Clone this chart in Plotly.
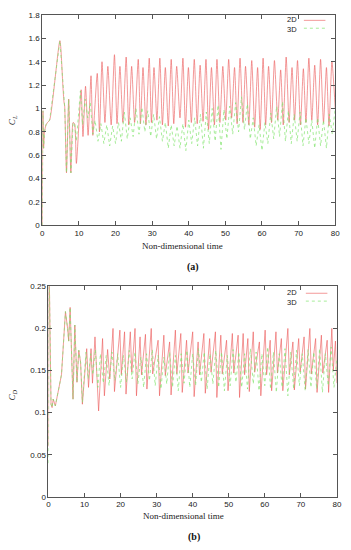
import plotly.graph_objects as go

# ---------------- data ----------------
x_ticks = [0, 10, 20, 30, 40, 50, 60, 70, 80]
cl_ticks = [0, 0.2, 0.4, 0.6, 0.8, 1.0, 1.2, 1.4, 1.6, 1.8]
cl_tick_text = ["0", "0.2", "0.4", "0.6", "0.8", "1", "1.2", "1.4", "1.6", "1.8"]
cd_ticks = [0, 0.05, 0.1, 0.15, 0.2, 0.25]
cd_tick_text = ["0", "0.05", "0.1", "0.15", "0.2", "0.25"]

# C_L, 2D
cl2d_t = [0, 0.15, 0.35, 0.6, 1.0, 1.4, 2.0, 4.8, 5.6, 5.9, 6.1, 6.6, 7.2, 7.8, 8.4, 8.8, 9.3,
          10.6, 11.1, 11.8, 12.5, 13.3, 13.8, 15.0, 15.6, 16.3, 17.1, 17.9, 18.8, 19.7, 20.4,
          21.2, 22.0, 22.9, 23.6, 24.4, 25.2, 26.2, 26.8, 27.5, 28.3, 29.2, 29.8, 30.5, 31.3,
          32.1, 32.8, 33.6, 34.4, 35.2, 35.9, 36.7, 37.6, 38.4, 39.1, 39.9, 40.7, 41.5, 42.3,
          43.1, 43.9, 44.7, 45.4, 46.2, 47.0, 47.7, 48.5, 49.3, 50.1, 50.9, 51.7, 52.5, 53.2,
          54.0, 54.8, 55.5, 56.4, 57.2, 58.0, 58.8, 59.5, 60.3, 61.0, 61.8, 62.6, 63.4, 64.3,
          65.1, 65.8, 66.6, 67.4, 68.2, 68.9, 69.7, 70.5, 71.3, 72.0, 72.8, 73.6, 74.4, 75.2,
          76.0, 76.8, 77.6, 78.3, 79.1, 80.0]
cl2d_v = [0.0, 0.98, 0.66, 0.80, 0.86, 0.88, 0.90, 1.58, 1.20, 1.06, 1.02, 0.45, 1.08, 0.45, 0.88, 0.87, 0.53,
          1.16, 0.76, 1.19, 0.77, 1.28, 0.77, 1.30, 0.80, 1.40, 0.88, 1.36, 0.86, 1.46, 0.87,
          1.36, 0.88, 1.44, 0.86, 1.36, 0.88, 1.42, 0.87, 1.35, 0.86, 1.43, 0.88, 1.35, 0.90,
          1.43, 0.86, 1.35, 0.85, 1.42, 0.87, 1.36, 0.92, 1.43, 0.84, 1.35, 0.88, 1.42, 0.87,
          1.37, 0.89, 1.42, 0.82, 1.35, 0.86, 1.42, 0.88, 1.36, 0.90, 1.42, 0.92, 1.35, 0.87,
          1.43, 0.88, 1.36, 0.86, 1.41, 0.84, 1.35, 0.82, 1.43, 0.86, 1.36, 0.88, 1.41, 0.90,
          1.33, 0.86, 1.44, 0.88, 1.35, 0.90, 1.41, 0.86, 1.34, 0.88, 1.43, 0.90, 1.37, 0.86,
          1.42, 0.88, 1.35, 0.85, 1.40, 1.00]

# C_L, 3D
cl3d_t = [0, 0.15, 0.35, 0.6, 1.0, 1.4, 2.0, 4.8, 5.6, 5.9, 6.1, 6.6, 7.2, 7.8, 8.4, 8.8, 9.3,
          10.4, 11.0, 11.7, 12.4, 13.1, 13.8, 14.4, 15.2, 16.0, 16.8, 17.6, 18.4, 19.2, 20.0,
          20.8, 21.6, 22.4, 23.2, 24.0, 24.8, 25.6, 26.4, 27.2, 28.0, 28.8, 29.6, 30.4, 31.2,
          32.0, 32.8, 33.6, 34.4, 35.2, 36.0, 36.8, 37.6, 38.4, 39.2, 40.0, 40.8, 41.6, 42.4,
          43.2, 44.0, 44.8, 45.6, 46.4, 47.2, 48.0, 48.8, 49.6, 50.4, 51.2, 52.0, 52.8, 53.6,
          54.4, 55.2, 56.0, 56.8, 57.6, 58.4, 59.2, 60.0, 60.8, 61.6, 62.4, 63.2, 64.0, 64.8,
          65.6, 66.4, 67.2, 68.0, 68.8, 69.6, 70.4, 71.2, 72.0, 72.8, 73.6, 74.4, 75.2, 76.0,
          76.8, 77.6, 78.4, 79.2, 80.0]
cl3d_v = [0.0, 0.98, 0.66, 0.80, 0.86, 0.88, 0.90, 1.58, 1.20, 1.06, 1.02, 0.45, 1.08, 0.45, 0.88, 0.87, 0.72,
          1.15, 0.86, 1.08, 0.92, 1.05, 0.78, 0.90, 0.72, 0.87, 0.70, 0.86, 0.68, 0.85, 0.70,
          0.88, 0.72, 0.97, 0.74, 0.92, 0.76, 1.00, 0.78, 1.01, 0.80, 0.98, 0.76, 0.95, 0.74,
          0.93, 0.72, 0.88, 0.66, 0.86, 0.68, 0.85, 0.66, 0.87, 0.64, 0.90, 0.70, 0.92, 0.68,
          0.95, 0.66, 0.97, 0.70, 1.00, 0.72, 1.03, 0.65, 0.99, 0.74, 1.02, 0.78, 1.05, 0.80,
          1.10, 0.82, 1.04, 0.74, 0.92, 0.68, 0.86, 0.64, 0.88, 0.70, 0.96, 0.74, 1.02, 0.76,
          1.06, 0.72, 0.98, 0.70, 0.95, 0.72, 0.97, 0.68, 0.92, 0.70, 0.90, 0.66, 0.92, 0.68,
          0.90, 0.66, 0.95, 0.78, 1.00]

# C_D, 2D
cd2d_t = [0, 0.1, 0.7, 1.0, 1.3, 1.9, 3.6, 4.7, 5.3, 5.6, 6.0, 6.8, 7.3, 7.9, 8.4, 8.9, 9.4,
          10.6, 11.1, 11.8, 12.2, 12.9, 13.9, 15.0, 15.5, 16.4, 17.0, 17.9, 18.3, 19.8, 20.2,
          21.1, 21.5, 22.7, 23.1, 24.0, 24.4, 25.4, 25.8, 26.9, 27.3, 28.5, 28.9, 30.4, 30.8,
          32.0, 32.4, 33.6, 34.0, 35.2, 35.6, 36.7, 37.1, 38.3, 38.7, 40.0, 40.4, 41.5, 41.9,
          43.1, 43.5, 44.7, 45.1, 46.3, 46.7, 47.8, 48.2, 49.4, 49.8, 51.0, 51.4, 52.6, 53.0,
          54.0, 54.4, 55.3, 55.7, 56.8, 57.2, 58.5, 58.9, 60.1, 60.5, 61.5, 61.9, 63.1, 63.5,
          64.6, 65.0, 66.4, 66.8, 67.8, 68.2, 69.4, 69.8, 70.9, 71.3, 72.5, 72.9, 74.1, 74.5,
          75.7, 76.1, 77.3, 77.7, 78.6, 79.0, 79.6, 80.0]
cd2d_v = [0.06, 0.30, 0.110, 0.106, 0.116, 0.108, 0.145, 0.220, 0.200, 0.185, 0.225, 0.116, 0.204, 0.136, 0.174, 0.160, 0.110,
          0.176, 0.130, 0.176, 0.135, 0.190, 0.102, 0.188, 0.120, 0.175, 0.140, 0.200, 0.125, 0.198, 0.145,
          0.196, 0.122, 0.196, 0.148, 0.200, 0.120, 0.190, 0.145, 0.193, 0.128, 0.200, 0.146, 0.186, 0.120,
          0.192, 0.144, 0.184, 0.121, 0.198, 0.146, 0.194, 0.124, 0.186, 0.147, 0.196, 0.119, 0.184, 0.145,
          0.194, 0.123, 0.188, 0.148, 0.196, 0.118, 0.192, 0.146, 0.186, 0.126, 0.194, 0.147, 0.192, 0.118,
          0.194, 0.145, 0.188, 0.125, 0.196, 0.148, 0.184, 0.120, 0.198, 0.145, 0.186, 0.126, 0.196, 0.147,
          0.188, 0.126, 0.200, 0.145, 0.184, 0.127, 0.188, 0.148, 0.190, 0.128, 0.200, 0.146, 0.188, 0.124,
          0.192, 0.147, 0.186, 0.124, 0.200, 0.150, 0.185, 0.135]

# C_D, 3D
cd3d_t = [0, 0.1, 0.7, 1.0, 1.3, 1.9, 3.6, 4.7, 5.3, 5.6, 6.0, 6.8, 7.3, 7.9, 8.4, 8.9, 9.4,
          10.4, 11.0, 11.7, 12.3, 13.0, 13.7, 14.4, 15.2, 16.0, 16.8, 17.6, 18.4, 19.2, 20.0,
          20.8, 21.6, 22.4, 23.2, 24.0, 24.8, 25.6, 26.4, 27.2, 28.0, 28.8, 29.6, 30.4, 31.2,
          32.0, 32.8, 33.6, 34.4, 35.2, 36.0, 36.8, 37.6, 38.4, 39.2, 40.0, 40.8, 41.6, 42.4,
          43.2, 44.0, 44.8, 45.6, 46.4, 47.2, 48.0, 48.8, 49.6, 50.4, 51.2, 52.0, 52.8, 53.6,
          54.4, 55.2, 56.0, 56.8, 57.6, 58.4, 59.2, 60.0, 60.8, 61.6, 62.4, 63.2, 64.0, 64.8,
          65.6, 66.4, 67.2, 68.0, 68.8, 69.6, 70.4, 71.2, 72.0, 72.8, 73.6, 74.4, 75.2, 76.0,
          76.8, 77.6, 78.4, 79.2, 80.0]
cd3d_v = [0.04, 0.30, 0.110, 0.106, 0.116, 0.108, 0.145, 0.220, 0.200, 0.185, 0.225, 0.116, 0.204, 0.136, 0.174, 0.160, 0.112,
          0.172, 0.140, 0.170, 0.145, 0.175, 0.130, 0.170, 0.135, 0.168, 0.132, 0.172, 0.138, 0.170, 0.130,
          0.168, 0.136, 0.174, 0.140, 0.172, 0.134, 0.166, 0.130, 0.170, 0.138, 0.175, 0.132, 0.168, 0.128,
          0.166, 0.134, 0.172, 0.130, 0.168, 0.126, 0.170, 0.135, 0.174, 0.130, 0.170, 0.132, 0.176, 0.136,
          0.172, 0.128, 0.170, 0.134, 0.174, 0.130, 0.172, 0.126, 0.168, 0.132, 0.175, 0.136, 0.172, 0.130,
          0.170, 0.128, 0.176, 0.134, 0.172, 0.126, 0.170, 0.132, 0.178, 0.128, 0.172, 0.124, 0.170, 0.130,
          0.176, 0.120, 0.172, 0.128, 0.174, 0.132, 0.170, 0.126, 0.175, 0.130, 0.172, 0.128, 0.176, 0.124,
          0.170, 0.132, 0.178, 0.130, 0.165]

series_names = ["2D", "3D"]

# ---------------- style ----------------
RED = "rgba(236,90,90,0.62)"
GREEN = "rgba(130,228,110,0.7)"
OFF = 8                      # default page margin of the html body
W, H = 351 - OFF, 550 - OFF  # figure size so that it fits the window


def px(x):
    return (x - OFF) / W


def py(y):
    return 1 - (y - OFF) / H


fig = go.Figure()
fig.add_trace(go.Scatter(x=cl2d_t, y=cl2d_v, mode="lines", name=series_names[0],
                         line=dict(color=RED, width=1, shape="spline", smoothing=0.6),
                         xaxis="x", yaxis="y", showlegend=False))
fig.add_trace(go.Scatter(x=cl3d_t, y=cl3d_v, mode="lines", name=series_names[1],
                         line=dict(color=GREEN, width=1, dash="dot"), xaxis="x", yaxis="y", showlegend=False))
fig.add_trace(go.Scatter(x=cd2d_t, y=cd2d_v, mode="lines", name=series_names[0],
                         line=dict(color=RED, width=1), xaxis="x2", yaxis="y2", showlegend=False))
fig.add_trace(go.Scatter(x=cd3d_t, y=cd3d_v, mode="lines", name=series_names[1],
                         line=dict(color=GREEN, width=1, dash="dot"), xaxis="x2", yaxis="y2", showlegend=False))

tickfont = dict(family="Liberation Sans, Arial, sans-serif", size=8, color="#222")
axis_common = dict(showline=True, linecolor="#555", linewidth=1, mirror="ticks",
                   ticks="inside", ticklen=4, tickcolor="#555", showgrid=False,
                   zeroline=False, tickfont=tickfont, fixedrange=True)

fig.update_layout(
    width=W, height=H,
    margin=dict(l=0, r=0, t=0, b=0),
    paper_bgcolor="white", plot_bgcolor="white",
    xaxis=dict(domain=[px(41), px(340)], anchor="y", range=[0, 80],
               tickvals=x_ticks, **axis_common),
    yaxis=dict(domain=[py(225), py(11)], anchor="x", range=[0, 1.8],
               tickvals=cl_ticks, ticktext=cl_tick_text, **axis_common),
    xaxis2=dict(domain=[px(47.3), px(341.7)], anchor="y2", range=[0, 80],
                tickvals=x_ticks, **axis_common),
    yaxis2=dict(domain=[py(501), py(287)], anchor="x2", range=[0, 0.25],
                tickvals=cd_ticks, ticktext=cd_tick_text, **axis_common),
)

serif = "Liberation Serif, DejaVu Serif, serif"
sans = "Liberation Sans, Arial, sans-serif"
ann = []
ann.append(dict(text="<i>C</i><sub><i>L</i></sub>", x=px(10), y=py(118), textangle=-90,
                font=dict(family=serif, size=9, color="#222")))
ann.append(dict(text="<i>C</i><sub><i>D</i></sub>", x=px(11), y=py(397), textangle=-90,
                font=dict(family=serif, size=9, color="#222")))
ann.append(dict(text="Non-dimensional time", x=px(184), y=py(246),
                font=dict(family=serif, size=9, color="#222")))
ann.append(dict(text="Non-dimensional time", x=px(185.5), y=py(521),
                font=dict(family=serif, size=9, color="#222")))
ann.append(dict(text="<b>(a)</b>", x=px(195), y=py(267),
                font=dict(family=serif, size=10, color="#111")))
ann.append(dict(text="<b>(b)</b>", x=px(196), y=py(542),
                font=dict(family=serif, size=10, color="#111")))
# legends (text left of the key, as in the original)
legend_text = "<br>".join(series_names)
ann.append(dict(text=legend_text, x=px(303), y=py(20.5), xanchor="right",
                font=dict(family=sans, size=7.5, color="#222")))
ann.append(dict(text=legend_text, x=px(303), y=py(298), xanchor="right",
                font=dict(family=sans, size=7.5, color="#222")))
for a in ann:
    a.update(xref="paper", yref="paper", showarrow=False)
    a.setdefault("xanchor", "center")
    a.setdefault("yanchor", "middle")
fig.update_layout(annotations=ann)

shapes = []
for (ly, col, dash, x0, x1) in [(16.5, RED, "solid", 308, 330), (24.5, GREEN, "dot", 308, 330),
                                (294, RED, "solid", 310, 332), (302, GREEN, "dot", 310, 332)]:
    shapes.append(dict(type="line", xref="paper", yref="paper", x0=px(x0), x1=px(x1),
                       y0=py(ly), y1=py(ly), line=dict(color=col, width=1, dash=dash)))
fig.update_layout(shapes=shapes)

fig.write_html("out.html")
